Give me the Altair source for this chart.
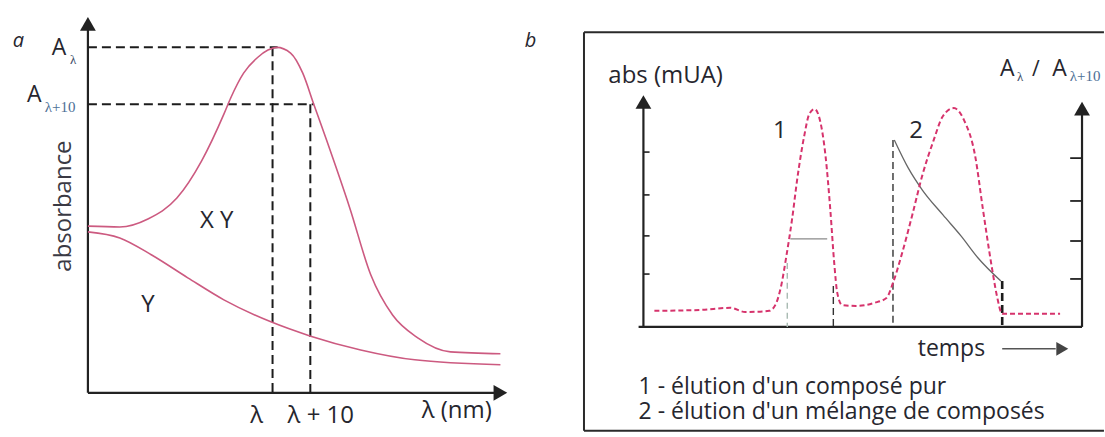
import altair as alt
import pandas as pd

FONT = "Open Sans"
INK = "#26262e"
PINK_A = "#cc5a80"
PINK_B = "#d6336c"

# ---------------- panel a : absorption spectra ----------------
# wavelength (arbitrary units) / absorbance (arbitrary units)
xy_wl = [0, 7.6, 14.3, 21.2, 27.1, 32.4, 34.0, 37.1, 40.5, 42.9, 45.0, 48.3,
         51.2, 53.8, 56.7, 62.4, 67.4, 72.6, 78.6, 86.4, 98.3]
xy_abs = [43.9, 43.7, 45.8, 51.3, 61.1, 73.4, 77.6, 84.2, 88.4, 90.3, 91.0, 89.5,
          84.2, 76.1, 67.1, 48.7, 31.1, 20.5, 14.5, 10.8, 10.3]
y_wl = [0, 7.6, 15.2, 23.8, 32.4, 43.6, 52.9, 65.0, 77.9, 98.3]
y_abs = [42.4, 40.8, 36.3, 30.3, 24.5, 18.7, 15.0, 11.3, 8.7, 7.4]

lam, lam10 = 44.0, 53.0          # selected wavelengths
a_lam, a_lam10 = 91.0, 76.0      # absorbance read at them

# ---------------- panel b : chromatogram ----------------
t_abs = [2.5, 13.0, 19.8, 23.2, 28.7, 30.3, 31.4, 32.6, 33.9, 35.1, 36.7, 37.8,
         39.0, 40.3, 41.5, 42.6, 43.5, 44.2, 45.3, 48.5, 52.6, 55.4, 56.9, 58.8,
         61.3, 63.6, 66.1, 68.3, 70.8, 73.1, 75.6, 77.4, 79.5, 80.6, 81.8, 95.0]
v_abs = [6.9, 7.3, 8.2, 6.4, 6.9, 10.3, 17.6, 30.5, 46.4, 63.9, 82.4, 91.4,
         93.6, 88.4, 73.8, 50.6, 27.5, 14.6, 9.4, 9.0, 10.3, 12.4, 18.9, 30.5,
         48.1, 65.2, 79.8, 90.6, 94.0, 88.8, 73.8, 50.6, 24.9, 13.3, 5.6, 5.6]

# absorbance ratio A(lambda) / A(lambda+10)
t_ratio1 = [33.5, 41.9]
v_ratio1 = [37.8, 37.8]
t_ratio2 = [57.2, 60.4, 63.6, 68.3, 72.4, 76.3, 81.5]
v_ratio2 = [80.3, 68.2, 58.8, 48.1, 39.1, 29.6, 19.7]

left_ticks = [75.1, 56.7, 39.1, 22.7]
right_ticks = [72.5, 54.1, 36.9, 20.6]

# ---------------- scales ----------------
XA = alt.Scale(domain=[0, 100], nice=False, zero=False)
YA = alt.Scale(domain=[-10.263, 100.263], nice=False, zero=False)
XB = alt.Scale(domain=[-13.667, 105.239], nice=False, zero=False)
YB = alt.Scale(domain=[-45.064, 135.193], nice=False, zero=False)


def enc_xy(xs, ys):
    return dict(x=alt.X("x:Q", scale=xs, axis=None),
                y=alt.Y("y:Q", scale=ys, axis=None))


def curve(xv, yv, xs, ys, color, width, dash=None, interp="monotone"):
    df = pd.DataFrame({"x": xv, "y": yv, "i": range(len(xv))})
    kw = dict(color=color, strokeWidth=width, interpolate=interp)
    if dash:
        kw["strokeDash"] = dash
    return alt.Chart(df).mark_line(**kw).encode(order="i:O", **enc_xy(xs, ys))


def segs(x1, y1, x2, y2, xs, ys, color, width, dash=None):
    df = pd.DataFrame({"x": x1, "y": y1, "x2": x2, "y2": y2})
    kw = dict(color=color, strokeWidth=width)
    if dash:
        kw["strokeDash"] = dash
    return alt.Chart(df).mark_rule(**kw).encode(
        x2="x2:Q", y2="y2:Q", **enc_xy(xs, ys))


def heads(xv, yv, shape, xs, ys, size=250, color="#222222"):
    df = pd.DataFrame({"x": xv, "y": yv})
    return alt.Chart(df).mark_point(shape=shape, filled=True, size=size,
                                    color=color, opacity=1).encode(**enc_xy(xs, ys))


def label(xv, yv, texts, xs, ys, size, align="left", baseline="alphabetic",
          color=INK, font=FONT, angle=0, style="normal"):
    df = pd.DataFrame({"x": xv, "y": yv, "t": texts})
    return alt.Chart(df).mark_text(align=align, baseline=baseline, fontSize=size,
                                   color=color, font=font, angle=angle,
                                   fontStyle=style).encode(text="t:N", **enc_xy(xs, ys))


# ---- panel a layers ----
panel_a = alt.layer(
    # axes
    segs([0, 0], [0, 0], [0, 97.5], [96.0, 0], XA, YA, "#222222", 2.2),
    heads([0], [97.2], "triangle-up", XA, YA),
    heads([98.3], [0], "triangle-right", XA, YA),
    # guide lines at the two wavelengths
    segs([0, lam, 0, lam10], [a_lam, a_lam, a_lam10, a_lam10],
         [lam + 1.2, lam, lam10 + 0.9, lam10], [a_lam, 0, a_lam10, 0],
         XA, YA, "#1c1c1c", 2, dash=[9, 5]),
    # spectra
    curve(xy_wl, xy_abs, XA, YA, PINK_A, 1.6),
    curve(y_wl, y_abs, XA, YA, PINK_A, 1.6),
    # texts
    label([-17.9], [91.1], ["a"], XA, YA, 20, style="italic"),
    label([105.5], [91.1], ["b"], XA, YA, 20, align="center", style="italic"),
    label([-8.6, -14.5], [88.9, 76.6], ["A", "A"], XA, YA, 23),
    label([-4.3], [86.6], ["λ"], XA, YA, 13, color="#3b4a66", font="Liberation Serif"),
    label([-10.3], [73.9], ["λ+10"], XA, YA, 15, color="#4d6f96", font="Liberation Serif"),
    label([-5.7], [49.2], ["absorbance"], XA, YA, 24, align="center",
          baseline="middle", angle=270, color="#3a3a44"),
    label([30.7], [43.4], ["X Y"], XA, YA, 24, align="center"),
    label([14.3], [21.3], ["Y"], XA, YA, 24, align="center"),
    label([40.2, 55.5, 87.9], [-7.9, -7.9, -6.6], ["λ", "λ + 10", "λ (nm)"],
          XA, YA, 24, align="center"),
).properties(width=420, height=420)

# ---- panel b layers ----
frame = segs([-13.55, -13.55, -13.55], [126.6, -44.6, -44.6],
             [105.0, -13.55, 105.0], [126.6, 126.6, -44.6],
             XB, YB, "#2a2a2a", 2)

panel_b = alt.layer(
    frame,
    # axes
    segs([0, 100, -1.1], [0, 0, 0], [0, 100, 100], [95.5, 92.5, 0], XB, YB, "#222222", 2.2),
    heads([0], [96.6], "triangle-up", XB, YB),
    heads([100], [93.8], "triangle-up", XB, YB),
    segs([0] * 4, left_ticks, [1.4] * 4, left_ticks, XB, YB, "#222222", 1.6),
    segs([97.3] * 4, right_ticks, [100] * 4, right_ticks, XB, YB, "#222222", 1.8),
    # peak boundaries
    segs([32.8], [27.5], [32.8], [0], XB, YB, "#a9bab2", 1.4, dash=[6, 4]),
    segs([43.3, 56.9], [17.6, 80.3], [43.3, 56.9], [0, 0], XB, YB, "#333333", 1.4, dash=[7, 4]),
    segs([81.8], [19.7], [81.8], [0], XB, YB, "#1c1c1c", 2.6, dash=[8, 4]),
    # ratio curves
    curve(t_ratio1, v_ratio1, XB, YB, "#8a8a8a", 1.3, interp="linear"),
    curve(t_ratio2, v_ratio2, XB, YB, "#666666", 1.3),
    # chromatogram
    curve(t_abs, v_abs, XB, YB, PINK_B, 2, dash=[5, 3]),
    # time arrow
    segs([81.8], [-9.4], [94.0], [-9.4], XB, YB, "#555555", 1.4),
    heads([95.5], [-9.4], "triangle-right", XB, YB, size=190, color="#444444"),
    # texts
    label([-8.0], [104.7], ["abs (mUA)"], XB, YB, 24),
    label([81.3, 93.2], [107.7, 107.7], ["A", "A"], XB, YB, 23),
    label([88.6], [107.7], ["/"], XB, YB, 21),
    label([85.2], [105.6], ["λ"], XB, YB, 13, color="#3b4a66", font="Liberation Serif"),
    label([97.2], [105.6], ["λ+10"], XB, YB, 15, color="#4d6f96", font="Liberation Serif"),
    label([31.1, 62.2], [81.1, 81.1], ["1", "2"], XB, YB, 24, align="center"),
    label([77.9], [-12.4], ["temps"], XB, YB, 23, align="right"),
    label([-1.1, -1.1], [-28.8, -39.6],
          ["1 - élution d'un composé pur", "2 - élution d'un mélange de composés"],
          XB, YB, 23),
).properties(width=522, height=420)

chart = alt.hconcat(panel_a, panel_b, spacing=76, bounds="flush").properties(
    padding={"left": 12, "top": 12, "right": 0, "bottom": 5},
    background="white",
).configure_view(strokeWidth=0)

chart.save("out.html", embed_options={"renderer": "svg", "actions": False})
